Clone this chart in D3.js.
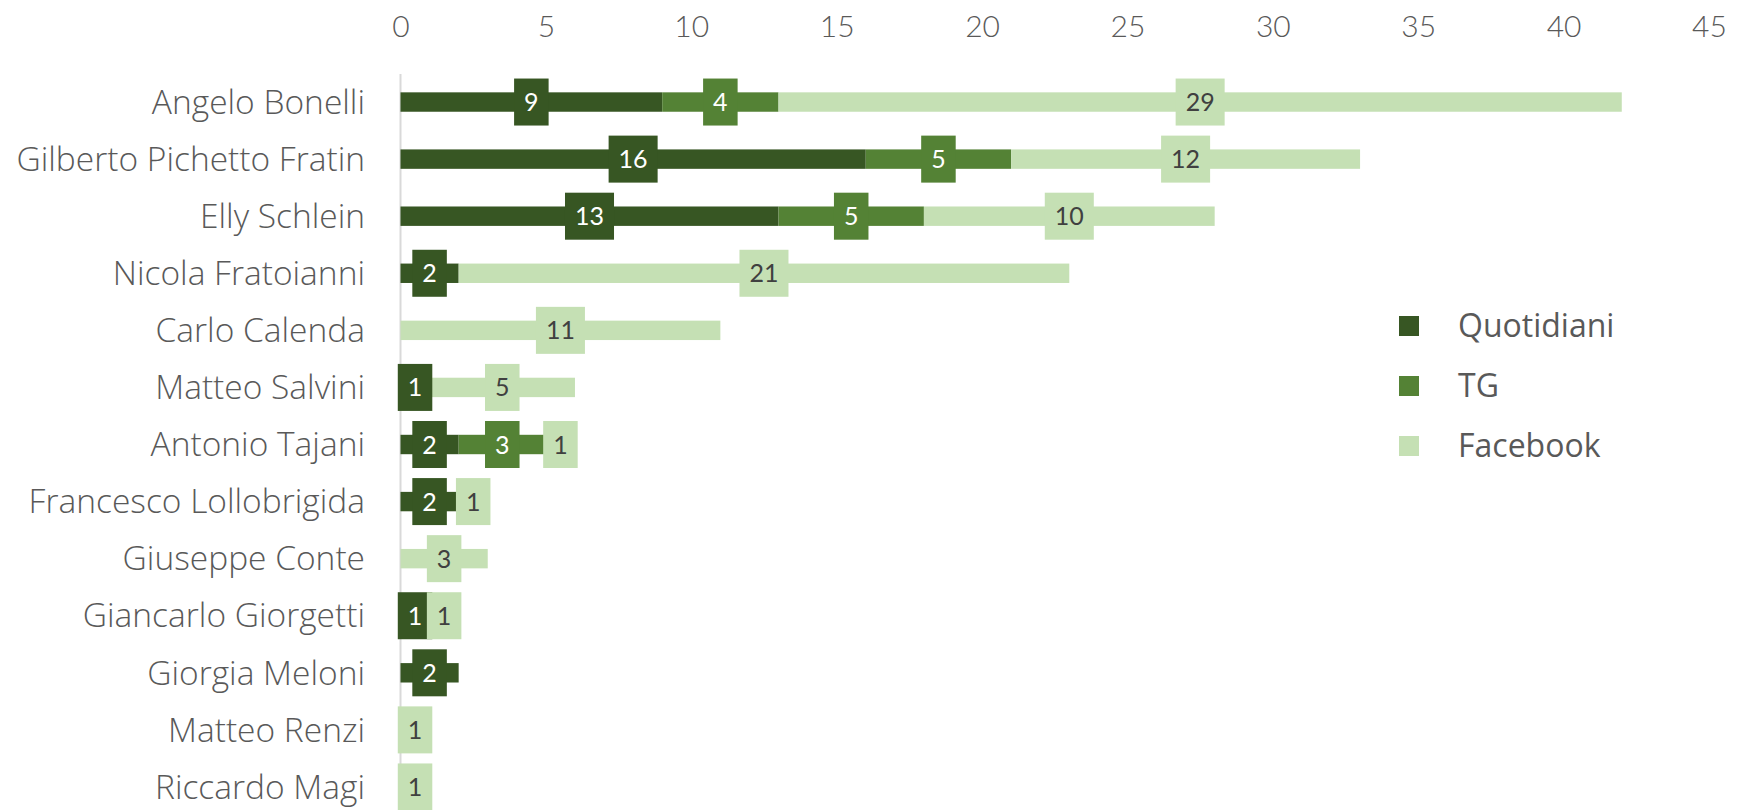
<!DOCTYPE html>
<html><head><meta charset="utf-8">
<script src="https://cdn.jsdelivr.net/npm/d3@7"></script>
<style>
body{margin:0;background:#fff;}
</style></head>
<body><svg id="c" width="1755" height="810"></svg>
<script>
const categories = ["Angelo Bonelli","Gilberto Pichetto Fratin","Elly Schlein","Nicola Fratoianni","Carlo Calenda","Matteo Salvini","Antonio Tajani","Francesco Lollobrigida","Giuseppe Conte","Giancarlo Giorgetti","Giorgia Meloni","Matteo Renzi","Riccardo Magi"];
const quotidiani = [9,16,13,2,0,1,2,2,0,1,2,0,0];
const tg = [4,5,5,0,0,0,3,0,0,0,0,0,0];
const facebook = [29,12,10,21,11,5,1,1,3,1,0,1,1];
const seriesNames = ["Quotidiani","TG","Facebook"];
const seriesColors = ["#375623","#548235","#C5E0B4"];
const labelColors = ["#ffffff","#ffffff","#404040"];
const ticks = [0,5,10,15,20,25,30,35,40,45];

const svg = d3.select("#c");
const x = d3.scaleLinear().domain([0,45]).range([400.5,1709]);
const y = d3.scaleBand().domain(categories).range([73.5,815.5]).paddingInner(0.66).paddingOuter(0.33);

const data = categories.map((c,i)=>({cat:c, Quotidiani:quotidiani[i], TG:tg[i], Facebook:facebook[i]}));
const stack = d3.stack().keys(seriesNames)(data);

// axis
const axis = d3.axisTop(x).tickValues(ticks).tickSize(0).tickPadding(0);
const gA = svg.append("g").attr("transform","translate(0,40)").call(axis);
gA.select(".domain").remove();
gA.selectAll("text").style("font-family","Lato").style("font-size","30px").style("font-weight","300")
  .attr("fill","#595959").attr("dy","0.32em").attr("y",-13);

// vertical axis line
svg.append("line").attr("x1",x(0)).attr("x2",x(0)).attr("y1",74).attr("y2",810).attr("stroke","#d9d9d9").attr("stroke-width",2);

// category labels
svg.append("g").selectAll("text").data(categories).join("text")
  .attr("x",365).attr("y",d=>y(d)+y.bandwidth()/2).attr("dy","0.35em")
  .attr("text-anchor","end")
  .style("font-family","'Open Sans'").style("font-size","33.5px").style("font-weight","300")
  .attr("fill","#595959").text(d=>d);

// bars
stack.forEach((s,si)=>{
  svg.append("g").selectAll("rect").data(s.filter(d=>d[1]-d[0]>0)).join("rect")
    .attr("x",d=>x(d[0])).attr("width",d=>x(d[1])-x(d[0]))
    .attr("y",d=>y(d.data.cat)).attr("height",y.bandwidth())
    .attr("fill",seriesColors[si]);
});
// labels
stack.forEach((s,si)=>{
  const g = svg.append("g");
  s.filter(d=>d[1]-d[0]>0).forEach(d=>{
    const cx = (x(d[0])+x(d[1]))/2, cy = y(d.data.cat)+y.bandwidth()/2;
    const t = g.append("text").attr("x",cx).attr("y",cy).attr("dy","0.36em").attr("text-anchor","middle")
      .style("font-family","Lato").style("font-size","25px")
      .attr("fill",labelColors[si]).text(d[1]-d[0]);
    const w = t.node().getComputedTextLength();
    g.insert("rect","text").attr("x",cx-w/2-10).attr("width",w+20).attr("y",cy-23.5).attr("height",47).attr("fill",seriesColors[si]);
  });
});

// legend
const leg = svg.append("g");
seriesNames.forEach((n,i)=>{
  const cy = 326 + i*60;
  leg.append("rect").attr("x",1399).attr("y",cy-10).attr("width",20).attr("height",20).attr("fill",seriesColors[i]);
  leg.append("text").attr("x",1458).attr("y",cy).attr("dy","0.35em")
    .style("font-family","'Open Sans'").style("font-size","32px").style("font-weight","400")
    .attr("fill","#595959").text(n);
});
</script></body></html>
